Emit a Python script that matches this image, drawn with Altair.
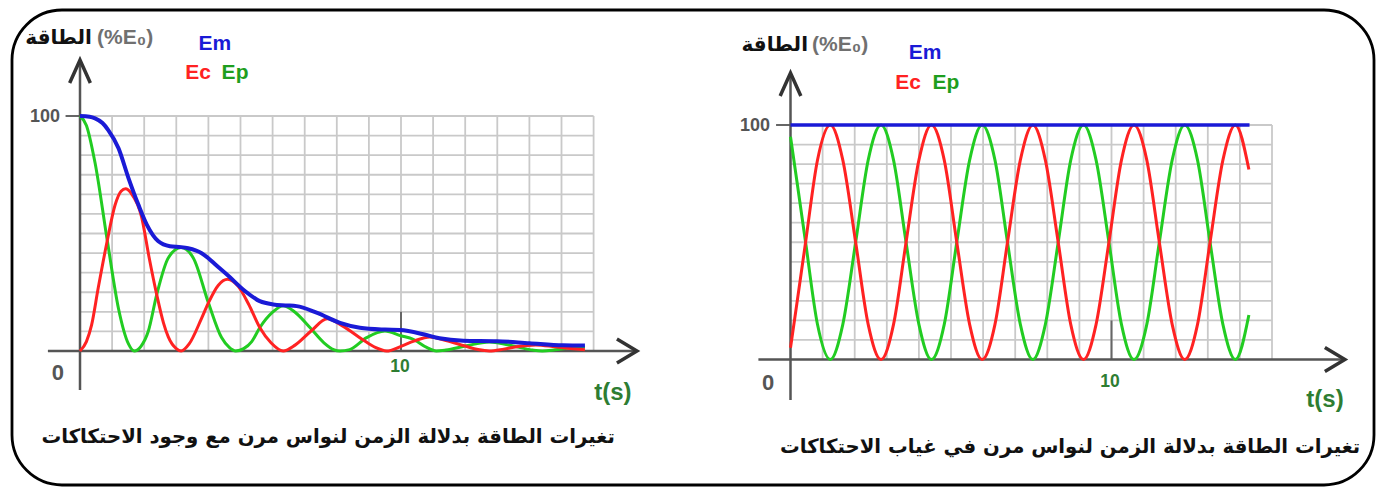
import altair as alt
import pandas as pd

# ---------------- data ----------------
# Left panel: with friction (damped)
L_ec_t = [0, 0.2, 0.36, 0.57, 0.85, 1.09, 1.28, 1.42, 1.6, 1.92, 2.15, 2.39, 2.6, 2.75, 3.0, 3.15,
          3.4, 3.79, 4.0, 4.31, 4.6, 4.93, 5.25, 5.6, 5.95, 6.33, 6.7, 7.2, 7.7, 8.2, 8.8, 9.2, 9.55,
          10.0, 10.4, 10.9, 11.4, 12.0, 12.4, 12.75, 13.2, 13.6, 14.2, 14.8, 15.2, 15.73]
L_ec_v = [0, 4, 11, 27, 47, 62, 68, 69, 67, 57, 40, 24, 12, 6, 1, 0,
          3, 14, 20.5, 28, 30.5, 27.5, 20, 10, 3.5, 0, 2.5, 8.5, 13.7, 10.5, 4.9, 1.5, 0,
          2, 4.2, 6, 4.5, 2.1, 0.6, 0, 0.8, 1.8, 2.6, 1.8, 1.2, 0.5]

L_ep_t = [0, 0.2, 0.47, 0.85, 1.2, 1.51, 1.69, 1.9, 2.13, 2.39, 2.75, 3.15, 3.53, 4.0, 4.41,
          4.65, 4.85, 5.1, 5.35, 5.6, 6.0, 6.33, 6.7, 7.17, 7.6, 7.9, 8.1, 8.4, 8.93, 9.5, 10.0,
          10.38, 10.8, 11.1, 11.4, 12.0, 12.75, 13.6, 14.1, 14.4, 14.8, 15.2, 15.73]
L_ep_v = [100, 96, 80, 47, 18, 3, 0, 2, 8.5, 24, 39.6, 44, 39.6, 20.5, 5.7,
          1.5, 0, 1, 4, 9.9, 16.5, 19.3, 16.5, 9.9, 3.5, 0.6, 0, 0.6, 5.7, 8.5, 6.5,
          5, 1.5, 0, 0.4, 2.1, 3.8, 1.8, 0.4, 0, 0.5, 1.2, 1.7]

L_em_t = [0, 0.3, 0.47, 0.7, 0.88, 1.2, 1.51, 1.82, 2.08, 2.44, 2.8, 3.15, 3.37, 3.6, 3.79, 4.0,
          4.2, 4.62, 5.14, 5.6, 6.02, 6.4, 6.75, 7.37, 8.1, 8.72, 9.5, 9.97, 10.7, 11.2, 11.94,
          12.98, 14.0, 15.05, 15.73]
L_em_v = [100, 99.7, 99, 97, 94, 86.3, 73.6, 62.2, 53.8, 46.7, 44.6, 44.2, 43.7, 42.8, 41.6, 39.5,
          37, 32, 25.5, 21.2, 19.8, 19.4, 19.1, 16.3, 12, 9.9, 9.1, 8.9, 7.1, 5.4, 4.4,
          4.2, 3.3, 2.4, 2.3]

# Right panel: no friction
R_t = [0, 0.2, 0.47, 0.84, 1.24, 1.63, 2.03, 2.42, 2.82, 3.21, 3.6, 4.0, 4.39, 4.79, 5.18, 5.58,
       5.97, 6.37, 6.76, 7.16, 7.55, 7.94, 8.34, 8.73, 9.13, 9.52, 9.92, 10.31, 10.7, 11.1, 11.49,
       11.89, 12.28, 12.68, 13.07, 13.47, 13.86, 14.28]
R_ec_v = [5, 24, 50, 85, 100, 85, 50, 15, 0, 15, 50, 85, 100, 85, 50, 15,
          0, 15, 50, 85, 100, 85, 50, 15, 0, 15, 50, 85, 100, 85, 50,
          15, 0, 15, 50, 85, 100, 81]
R_ep_v = [95, 76, 50, 15, 0, 15, 50, 85, 100, 85, 50, 15, 0, 15, 50, 85,
          100, 85, 50, 15, 0, 15, 50, 85, 100, 85, 50, 15, 0, 15, 50,
          85, 100, 85, 50, 15, 0, 19]
R_em_t = [0, 14.3]
R_em_v = [100, 100]

# axes / grid
L_grid_t = list(range(1, 17))
R_grid_t = list(range(1, 16))
grid_v = [100 * k / 12 for k in range(1, 13)]
tick_labels = ["0", "10", "100"]

title_ar = "الطاقة"
title_unit = "(%E₀)"
caption_L = "تغيرات الطاقة بدلالة الزمن لنواس مرن مع وجود الاحتكاكات"
caption_R = "تغيرات الطاقة بدلالة الزمن لنواس مرن في غياب الاحتكاكات"

# ---------------- layout ----------------
W, H = 1362, 475
PX_T = 32.1

def xdomain(zero_px):
    a = -zero_px / PX_T
    return [a, a + W / PX_T]

def ydomain(zero_px, ppu):
    c = -(H - zero_px) / ppu
    return [c, c + H / ppu]

RED, GREEN, BLUE = "#ff2222", "#22cc22", "#1a1ad6"
AX = "#555555"
DKGREEN = "#2e7d32"
LAT = "Liberation Sans"
AR = "DejaVu Sans"

XARROW = "M -1 -0.6 L 0 0 L -1 0.6"
YARROW = "M -0.45 1 L 0 0 L 0.45 1"


def panel(curves, grid_t, grid_tmax, xdom, ydom, ax, txt):
    xs = alt.Scale(domain=xdom, nice=False, zero=False)
    ys = alt.Scale(domain=ydom, nice=False, zero=False)

    def X(f):
        return alt.X(f, type="quantitative", scale=xs, axis=None)

    def Y(f):
        return alt.Y(f, type="quantitative", scale=ys, axis=None)

    seg = [dict(x=t, x2=t, y=0, y2=100) for t in grid_t] + \
          [dict(x=0, x2=grid_tmax, y=v, y2=v) for v in grid_v]
    grid = alt.Chart(pd.DataFrame(seg)).mark_rule(color="#c9c9c9", strokeWidth=1.8).encode(
        x=X("x"), x2="x2", y=Y("y"), y2="y2")

    axseg = [dict(x=ax["x0"], x2=ax["xtip"], y=0, y2=0),
             dict(x=0, x2=0, y=ax["y0"], y2=ax["ytip"])]
    axes = alt.Chart(pd.DataFrame(axseg)).mark_rule(color=AX, strokeWidth=2.5).encode(
        x=X("x"), x2="x2", y=Y("y"), y2="y2")

    tickseg = [dict(x=10, x2=10, y=0, y2=2 * grid_v[0]),
               dict(x=-0.45, x2=0, y=100, y2=100)]
    ticks = alt.Chart(pd.DataFrame(tickseg)).mark_rule(color="#666666", strokeWidth=2).encode(
        x=X("x"), x2="x2", y=Y("y"), y2="y2")

    xa = alt.Chart(pd.DataFrame([dict(x=ax["xtip"], y=0)])).mark_point(
        shape=XARROW, size=1600, filled=False, color="#333333", strokeWidth=3.5, opacity=1).encode(
        x=X("x"), y=Y("y"))
    ya = alt.Chart(pd.DataFrame([dict(x=0, y=ax["ytip"])])).mark_point(
        shape=YARROW, size=2116, filled=False, color="#333333", strokeWidth=3.5, opacity=1).encode(
        x=X("x"), y=Y("y"))

    layers = [grid, ticks, axes, xa, ya]
    for (tt, vv, col, sw) in curves:
        df = pd.DataFrame(dict(t=tt, v=vv))
        layers.append(alt.Chart(df).mark_line(interpolate="monotone", color=col, strokeWidth=sw).encode(
            x=X("t"), y=Y("v"), order="t:Q"))

    for (s, x, y, size, bold, col, align, font) in txt:
        df = pd.DataFrame([dict(x=x, y=y, s=s)])
        layers.append(alt.Chart(df).mark_text(
            fontSize=size, fontWeight="bold" if bold else "normal", color=col, align=align,
            baseline="middle", font=font).encode(x=X("x"), y=Y("y"), text="s:N"))
    return alt.layer(*layers)


def texts(p):
    return [
        (tick_labels[2], p["100"][0], p["100"][1], 18, True, AX, "right", LAT),
        (tick_labels[0], p["0"][0], p["0"][1], 22, True, AX, "center", LAT),
        (tick_labels[1], p["10"][0], p["10"][1], 17.5, True, DKGREEN, "center", LAT),
        ("t(s)", p["ts"][0], p["ts"][1], 24, True, DKGREEN, "center", LAT),
        (title_ar, p["ar"][0], p["ar"][1], 20, True, "#111111", "right", AR),
        (title_unit, p["unit"][0], p["unit"][1], 21, True, "#707070", "left", LAT),
        ("Em", p["Em"][0], p["Em"][1], 21, True, BLUE, "center", LAT),
        ("Ec", p["Ec"][0], p["Ec"][1], 21, True, RED, "center", LAT),
        ("Ep", p["Ep"][0], p["Ep"][1], 21, True, "#1e9e1e", "center", LAT),
        (p["cap_text"], p["cap"][0], p["cap"][1], 19.7, True, "#111111", "center", AR),
    ]

posL = {"100": (-0.62, 99.6), "0": (-0.69, -9.4), "10": (9.97, -6.8), "ts": (16.6, -17.9),
        "ar": (0.37, 133.2), "unit": (0.53, 133.2), "Em": (4.2, 130.6), "Ec": (3.68, 118.3),
        "Ep": (4.83, 118.3), "cap": (7.73, -36.6), "cap_text": caption_L}
posR = {"100": (-0.64, 99.6), "0": (-0.7, -10.0), "10": (9.95, -9.6), "ts": (16.65, -17.3),
        "ar": (0.545, 134.1), "unit": (0.67, 134.1), "Em": (4.19, 130.7), "Ec": (3.66, 117.9),
        "Ep": (4.84, 117.9), "cap": (8.71, -37.3), "cap_text": caption_R}

left = panel(
    [(L_ep_t, L_ep_v, GREEN, 3), (L_ec_t, L_ec_v, RED, 3), (L_em_t, L_em_v, BLUE, 4)],
    L_grid_t, 16, xdomain(68), ydomain(341, 2.35),
    dict(x0=-1.0, xtip=17.35, y0=-16.6, ytip=123.8), texts(posL))

right = panel(
    [(R_t, R_ep_v, GREEN, 3), (R_t, R_ec_v, RED, 3), (R_em_t, R_em_v, BLUE, 3.5)],
    R_grid_t, 15, xdomain(778.5), ydomain(349.5, 2.345),
    dict(x0=-1.0, xtip=17.27, y0=-17.3, ytip=122.2), texts(posR))

chart = alt.layer(left, right).resolve_scale(x="independent", y="independent").properties(
    width=W, height=H,
    padding={"left": 4, "top": 2, "right": 1.5, "bottom": 1.5},
    autosize=alt.AutoSizeParams(type="none"),
    background="white",
).configure_view(stroke="black", strokeWidth=2.8, cornerRadius=50, fill="white")

chart.save("out.html", embed_options={"renderer": "svg", "actions": False})
